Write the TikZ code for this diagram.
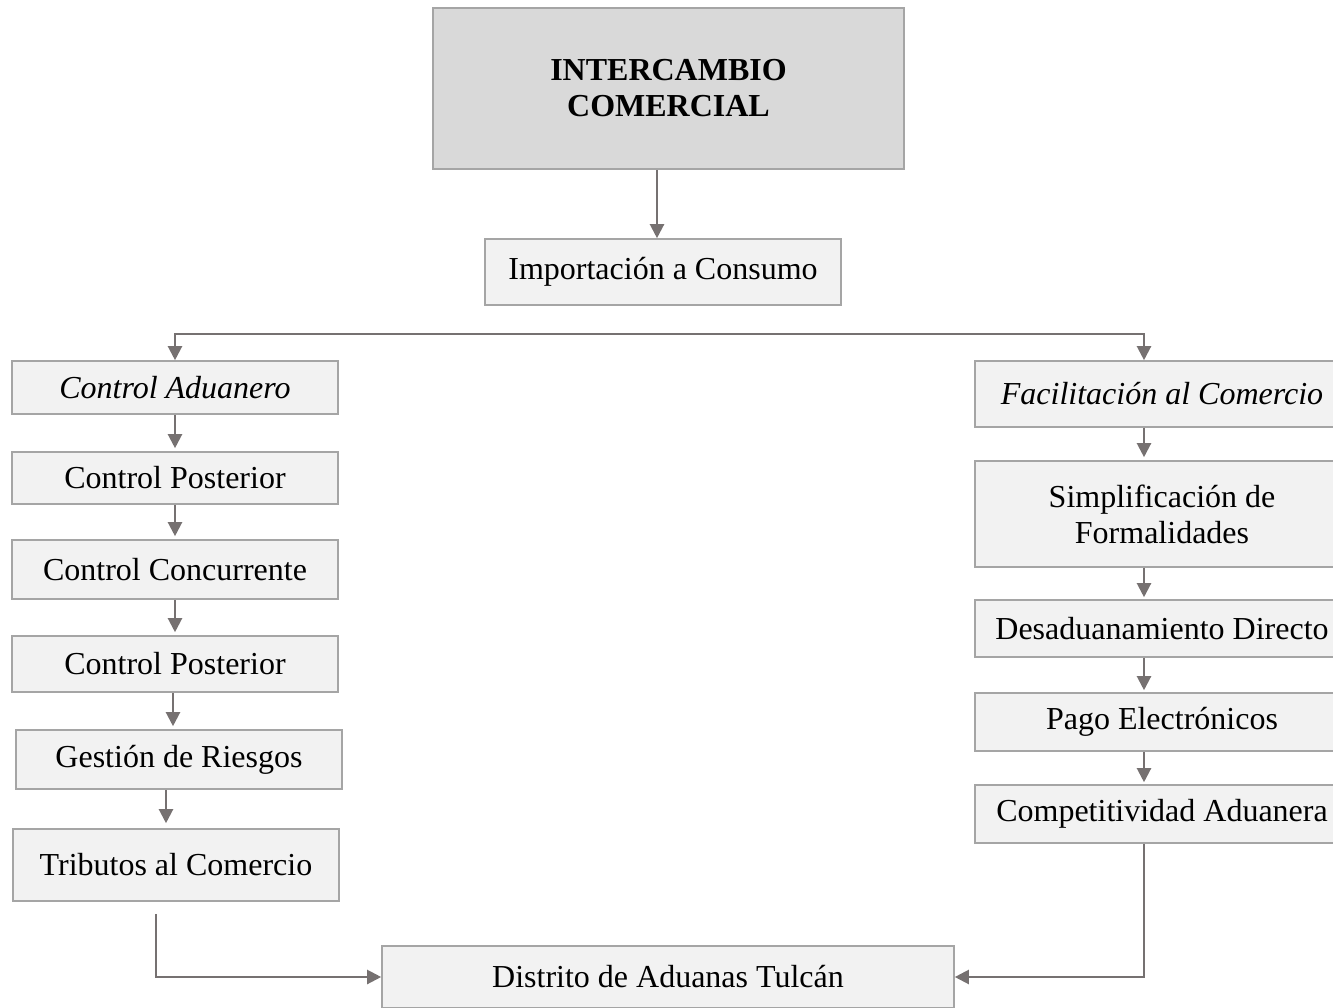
\documentclass[tikz,border=0pt]{standalone}
\usepackage{fontspec}
\setmainfont{Liberation Serif}
\usetikzlibrary{arrows.meta}
\definecolor{boxgray}{HTML}{F2F2F2}
\definecolor{headgray}{HTML}{D9D9D9}
\definecolor{edgegray}{HTML}{A5A5A5}
\definecolor{linegray}{HTML}{767171}
\tikzset{
    box/.style={draw=edgegray, line width=1.6pt, fill=boxgray, inner sep=0pt, align=center,
        font=\fontsize{32}{36}\selectfont},
    lbox/.style={box, minimum width=326pt},
    rbox/.style={box, minimum width=374pt},
    conn/.style={draw=linegray, line width=2.2pt, ->},
    >={Triangle[length=14pt, width=14pt]},
}
\begin{document}
\begin{tikzpicture}[x=1pt, y=-1pt]
        \useasboundingbox (0,0) rectangle (1333,1008);
        \node[box, fill=headgray, minimum width=471pt, minimum height=161pt] (top) at (668.5,88.5)
            {\textbf{INTERCAMBIO}\\\textbf{COMERCIAL}};
        \node[box, minimum width=356pt, minimum height=66pt] (imp) at (663,272) {Importación a Consumo};
        \node[lbox, minimum height=53pt] (ca) at (175,387.5) {\textit{Control Aduanero}};
        \node[lbox, minimum height=52pt] (cpa) at (175,478) {Control Posterior};
        \node[lbox, minimum height=59pt] (cc) at (175,569.5) {Control Concurrente};
        \node[lbox, minimum height=56pt] (cpb) at (175,664) {Control Posterior};
        \node[lbox, minimum height=59pt] (gr) at (179,759.5) {Gestión de Riesgos};
        \node[lbox, minimum height=72pt] (tc) at (176,865) {Tributos al Comercio};
        \node[rbox, minimum height=66pt] (fc) at (1162,394) {\textit{Facilitación al Comercio}};
        \node[rbox, minimum height=106pt] (sf) at (1162,514) {Simplificación de\\Formalidades};
        \node[rbox, minimum height=57pt] (dd) at (1162,628.5) {Desaduanamiento Directo};
        \node[rbox, minimum height=58pt] (pe) at (1162,722) {Pago Electrónicos};
        \node[rbox, minimum height=58pt] (cad) at (1162,814) {Competitividad Aduanera};
        \node[box, minimum width=572pt, minimum height=62pt] (dt) at (668,977) {Distrito de Aduanas Tulcán};
        \coordinate (branch) at (663,334);
        \coordinate (rx) at (1144,0);
        \draw[conn] ([xshift=-6pt]imp.north |- top.south) -- ([xshift=-6pt]imp.north);
        \draw[conn, <->] (ca.north) |- (branch) -| (rx |- fc.north);
        \draw[conn, shorten >=3pt] (ca.south) -- (ca.south |- cpa.north);
        \draw[conn, shorten >=3pt] (cpa.south) -- (cpa.south |- cc.north);
        \draw[conn, shorten >=3pt] (cc.south) -- (cc.south |- cpb.north);
        \draw[conn, shorten >=3pt] ([xshift=-2pt]cpb.south) -- ([xshift=-2pt]cpb.south |- gr.north);
        \draw[conn, shorten >=5pt] ([xshift=-13pt]gr.south) -- ([xshift=-13pt]gr.south |- tc.north);
        \draw[conn, shorten >=3pt] (rx |- fc.south) -- (rx |- sf.north);
        \draw[conn, shorten >=2pt] (rx |- sf.south) -- (rx |- dd.north);
        \draw[conn, shorten >=2pt] (rx |- dd.south) -- (rx |- pe.north);
        \draw[conn, shorten >=2pt] (rx |- pe.south) -- (rx |- cad.north);
        \draw[conn] ([xshift=-20pt, yshift=-12pt]tc.south) |- (dt.west);
        \draw[conn] (rx |- cad.south) |- (dt.east);
    \end{tikzpicture}
\end{document}
